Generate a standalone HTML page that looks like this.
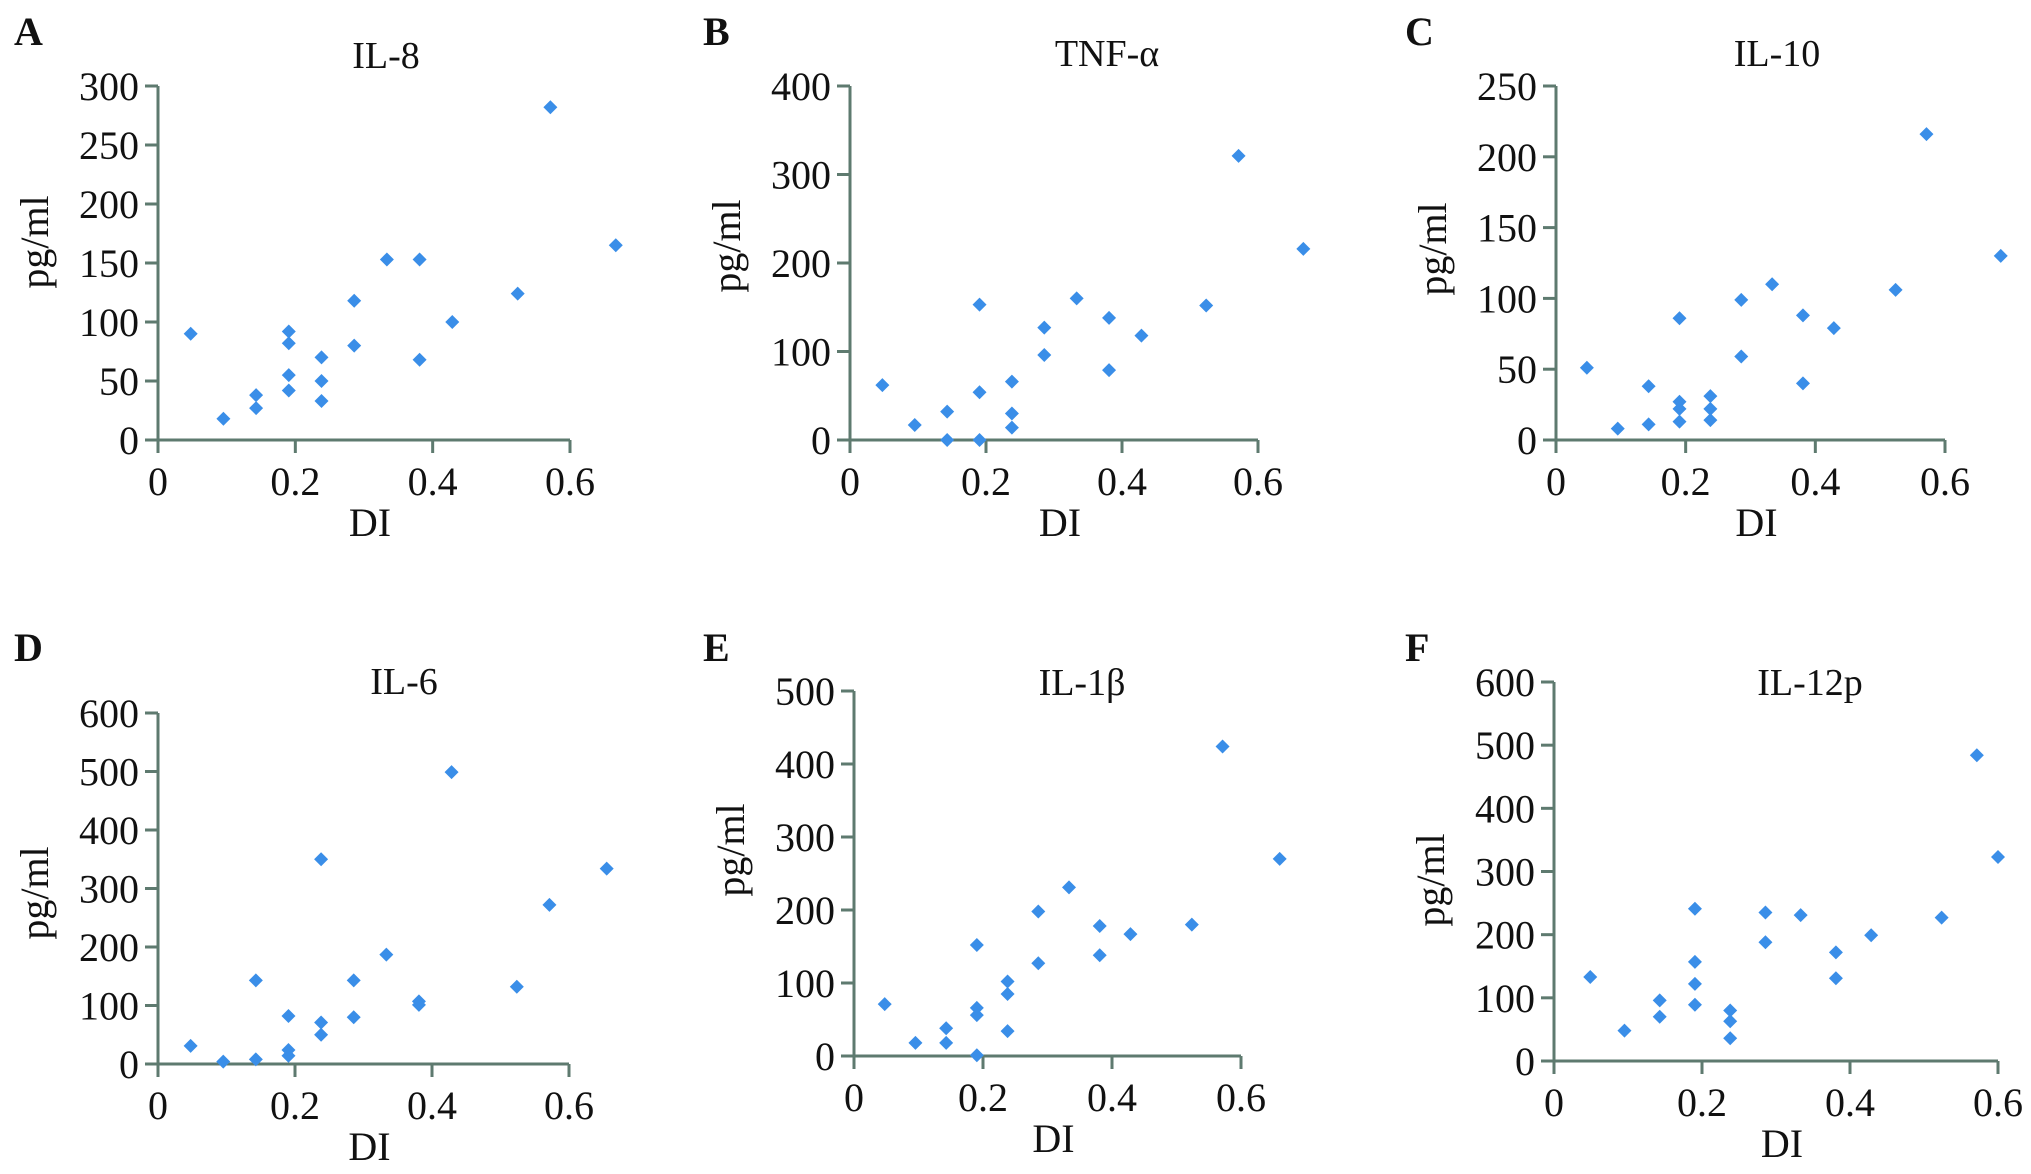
<!DOCTYPE html>
<html><head><meta charset="utf-8"><style>
html,body{margin:0;padding:0;background:#fff;}
svg{display:block;font-family:"Liberation Serif",serif;}
</style></head><body>
<svg id="fig" width="2031" height="1174" viewBox="0 0 2031 1174"></svg>
<script>
const xTicks = [0, 0.2, 0.4, 0.6];
const xTickLabels = ["0", "0.2", "0.4", "0.6"];

const il8X = [1/21,2/21,3/21,3/21,4/21,4/21,4/21,4/21,5/21,5/21,5/21,6/21,6/21,7/21,8/21,8/21,9/21,11/21,12/21,14/21];
const il8Y = [90,18,38,27,92,82,55,42,70,50,33,118,80,153,153,68,100,124,282,165];
const il8Ticks = [0,50,100,150,200,250,300];

const tnfX = [1/21,2/21,3/21,3/21,4/21,4/21,4/21,5/21,5/21,5/21,6/21,6/21,7/21,8/21,8/21,9/21,11/21,12/21,14/21];
const tnfY = [62,17,32,0,153,54,0,66,30,14,127,96,160,138,79,118,152,321,216];
const tnfTicks = [0,100,200,300,400];

const il10X = [1/21,2/21,3/21,3/21,4/21,4/21,4/21,4/21,5/21,5/21,5/21,6/21,6/21,7/21,8/21,8/21,9/21,11/21,12/21,0.686];
const il10Y = [51,8,38,11,86,27,22,13,31,22,14,99,59,110,88,40,79,106,216,130];
const il10Ticks = [0,50,100,150,200,250];

const il6X = [1/21,2/21,3/21,3/21,4/21,4/21,4/21,5/21,5/21,5/21,6/21,6/21,7/21,8/21,8/21,9/21,11/21,12/21,0.655];
const il6Y = [31,4,143,8,82,24,14,350,71,50,143,80,187,107,101,499,132,272,334];
const il6Ticks = [0,100,200,300,400,500,600];

const il1bX = [1/21,2/21,3/21,3/21,4/21,4/21,4/21,4/21,5/21,5/21,5/21,6/21,6/21,7/21,8/21,8/21,9/21,11/21,12/21,0.66];
const il1bY = [71,18,38,18,152,66,56,1,102,85,34,198,127,231,178,138,167,180,424,270];
const il1bTicks = [0,100,200,300,400,500];

const il12X = [0.049,2/21,3/21,3/21,4/21,4/21,4/21,4/21,5/21,5/21,5/21,6/21,6/21,7/21,8/21,8/21,9/21,11/21,12/21,0.6];
const il12Y = [133,48,96,70,241,157,122,89,80,63,36,235,188,231,172,131,199,227,484,323];
const il12Ticks = [0,100,200,300,400,500,600];

const NS = "http://www.w3.org/2000/svg";
const svg = document.getElementById("fig");
function mk(tag, attrs, parent){
  const e = document.createElementNS(NS, tag);
  for (const k in attrs) e.setAttribute(k, attrs[k]);
  (parent||svg).appendChild(e);
  return e;
}

const panels = [
  {key:"a", letter:"A", title:"IL-8",  lx:14,  ly:45,  x0:158, x1:570, y0:440, y1:86, tx:386, ty:68, py:242, xs:il8X, ys:il8Y, ticks:il8Ticks},
  {key:"b", letter:"B", title:"TNF-α", lx:703, ly:45,  x0:850, x1:1258,y0:440, y1:86, tx:1107,ty:66, py:246, xs:tnfX, ys:tnfY, ticks:tnfTicks},
  {key:"c", letter:"C", title:"IL-10", lx:1405,ly:45,  x0:1556,x1:1945,y0:440, y1:86, tx:1777,ty:66, py:249, xs:il10X,ys:il10Y,ticks:il10Ticks},
  {key:"d", letter:"D", title:"IL-6",  lx:14,  ly:661, x0:158, x1:569, y0:1064,y1:713,tx:404, ty:694, py:893, xs:il6X, ys:il6Y, ticks:il6Ticks},
  {key:"e", letter:"E", title:"IL-1β", lx:703, ly:661, x0:854, x1:1241,y0:1056,y1:691,tx:1082,ty:695, py:850, xs:il1bX,ys:il1bY,ticks:il1bTicks},
  {key:"f", letter:"F", title:"IL-12p",lx:1405,ly:661, x0:1554,x1:1998,y0:1061,y1:682,tx:1810,ty:695, py:880, xs:il12X,ys:il12Y,ticks:il12Ticks}
];

const axisColor = "#5e7a6f";
panels.forEach(p => {
  const g = mk("g", {});
  
  
  const yMax = p.ticks[p.ticks.length-1];
  const sx = v => p.x0 + (v/0.6)*(p.x1-p.x0);
  const sy = v => p.y0 - (v/yMax)*(p.y0-p.y1);

  const L = mk("text", {x:p.lx, y:p.ly, "font-size":40, "font-weight":"bold", fill:"#111"}, g);
  L.textContent = p.letter;
  
  

  const T = mk("text", {x:p.tx, y:p.ty, "font-size":38, "text-anchor":"middle", fill:"#111"}, g);
  T.textContent = p.title;
  
  

  const ya = mk("line", {x1:p.x0, y1:p.y0, x2:p.x0, y2:p.y1, stroke:axisColor, "stroke-width":3}, g);
  
  
  const xa = mk("line", {x1:p.x0-13, y1:p.y0, x2:p.x1, y2:p.y0, stroke:axisColor, "stroke-width":3}, g);
  
  

  p.ticks.forEach(t => {
    const y = sy(t);
    mk("line", {x1:p.x0-13, y1:y, x2:p.x0, y2:y, stroke:axisColor, "stroke-width":3}, g);
    const tl = mk("text", {x:p.x0-19, y:y+14, "font-size":40, "text-anchor":"end", fill:"#111"}, g);
    tl.textContent = String(t);
    
    
  });
  xTicks.forEach((t,i) => {
    const x = sx(t);
    mk("line", {x1:x, y1:p.y0, x2:x, y2:p.y0+13, stroke:axisColor, "stroke-width":3}, g);
    const tl = mk("text", {x:x, y:p.y0+55, "font-size":40, "text-anchor":"middle", fill:"#111"}, g);
    tl.textContent = xTickLabels[i];
    
    
  });

  const xt = mk("text", {x:(p.x0+p.x1)/2+6, y:p.y0+96, "font-size":40, "text-anchor":"middle", fill:"#111"}, g);
  xt.textContent = "DI";
  
  

  const cy = p.py;
  const cx = p.x0 - 110;
  const yt = mk("text", {x:cx, y:cy, "font-size":40, "text-anchor":"middle", fill:"#111", transform:"rotate(-90 "+cx+" "+cy+")"}, g);
  yt.textContent = "pg/ml";
  
  

  p.xs.forEach((xv,i) => {
    const x = sx(xv), y = sy(p.ys[i]), r = 7;
    const d = mk("polygon", {points:`${x},${y-r} ${x+r},${y} ${x},${y+r} ${x-r},${y}`, fill:"#3a8ee8"}, g);
    
    
  });
});
</script>
</body></html>
